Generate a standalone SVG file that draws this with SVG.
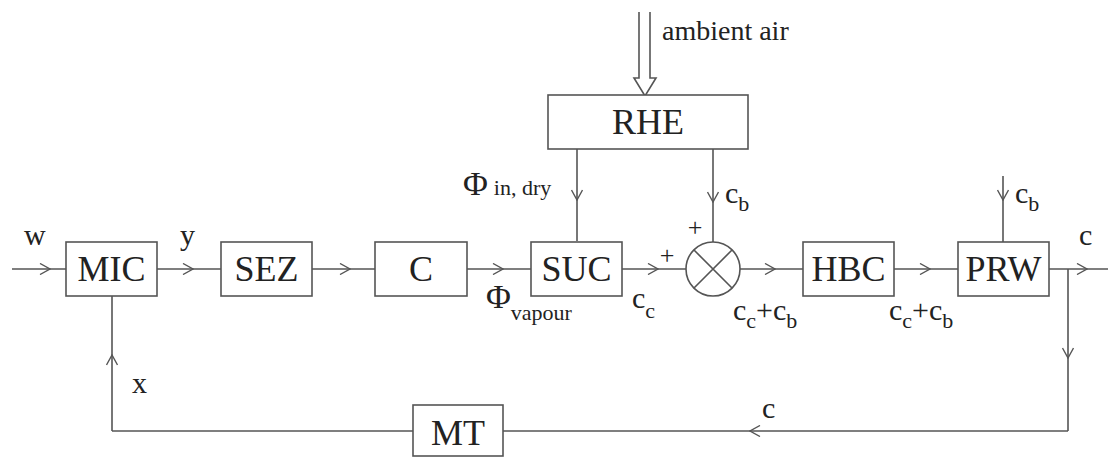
<svg xmlns="http://www.w3.org/2000/svg" width="1108" height="457" viewBox="0 0 1108 457">
<style>
.box{fill:#fff;stroke:#555;stroke-width:1.6}
.ln{fill:none;stroke:#555;stroke-width:1.6}
.big{font-family:"Liberation Serif",serif;font-size:36px;fill:#222;text-anchor:middle}
.lab{font-family:"Liberation Serif",serif;font-size:30px;fill:#222}
.sub{font-size:22px}
.phi{font-size:34px}
.amb{font-family:"Liberation Serif",serif;font-size:28px;fill:#222}
.pl{font-family:"Liberation Serif",serif;font-size:26px;fill:#222;text-anchor:middle}
</style>
<defs>
<marker id="chev" viewBox="0 0 12 12" refX="11" refY="6" markerWidth="12" markerHeight="12" markerUnits="userSpaceOnUse" orient="auto">
<path d="M1,0.5 L11,6 L1,11.5" fill="none" stroke="#555" stroke-width="1.4"/>
</marker>
</defs>
<rect width="1108" height="457" fill="#fff"/>
<g id="connectors">
<path class="ln" d="M12,269 L50,269 L66,269" marker-mid="url(#chev)"/>
<path class="ln" d="M157,269 L193,269 L221,269" marker-mid="url(#chev)"/>
<path class="ln" d="M312,269 L350,269 L375,269" marker-mid="url(#chev)"/>
<path class="ln" d="M467,269 L503,269 L531,269" marker-mid="url(#chev)"/>
<path class="ln" d="M622,269 L658,269 L686,269" marker-mid="url(#chev)"/>
<path class="ln" d="M740,269 L775,269 L803,269" marker-mid="url(#chev)"/>
<path class="ln" d="M894,269 L930,269 L958,269" marker-mid="url(#chev)"/>
<path class="ln" d="M1049,269 L1087,269 L1108,269" marker-mid="url(#chev)"/>
<path class="ln" d="M1068,269 L1068,358 L1068,431" marker-mid="url(#chev)"/>
<path class="ln" d="M1068,431 L750,431 L503,431" marker-mid="url(#chev)"/>
<path class="ln" d="M413,431 L112,431"/>
<path class="ln" d="M112,431 L112,355 L112,296" marker-mid="url(#chev)"/>
<path class="ln" d="M577,149 L577,200 L577,241" marker-mid="url(#chev)"/>
<path class="ln" d="M713,149 L713,202 L713,242" marker-mid="url(#chev)"/>
<path class="ln" d="M1003,176 L1003,200 L1003,242" marker-mid="url(#chev)"/>
<path class="ln" d="M639,12 L639,78 L634,78 L645,96 L656,78 L650,78 L650,12"/>
</g>
<g id="labels">
<text class="amb" x="662" y="40">ambient air</text>
<text class="lab" x="24" y="245">w</text>
<text class="lab" x="180" y="245">y</text>
<text class="lab" x="132" y="393">x</text>
<text class="lab" x="463" y="195"><tspan class="phi">Φ</tspan><tspan class="sub" dx="6">in, dry</tspan></text>
<text class="lab" x="486" y="308"><tspan class="phi">Φ</tspan><tspan class="sub" dy="12">vapour</tspan></text>
<text class="lab" x="632" y="308">c<tspan class="sub" dy="10">c</tspan></text>
<text class="lab" x="725" y="203">c<tspan class="sub" dy="8">b</tspan></text>
<text class="lab" x="1015" y="203">c<tspan class="sub" dy="8">b</tspan></text>
<text class="lab" x="1079" y="245">c</text>
<text class="lab" x="762" y="418">c</text>
<text class="lab" x="733" y="320">c<tspan class="sub" dy="8">c</tspan><tspan dy="-8">+c</tspan><tspan class="sub" dy="8">b</tspan></text>
<text class="lab" x="889" y="320">c<tspan class="sub" dy="8">c</tspan><tspan dy="-8">+c</tspan><tspan class="sub" dy="8">b</tspan></text>
<text class="pl" x="667" y="264">+</text>
<text class="pl" x="695" y="236">+</text>
</g>
<g id="MIC"><rect class="box" x="66" y="242" width="91" height="54"/><text class="big" x="111.5" y="281">MIC</text></g>
<g id="SEZ"><rect class="box" x="221" y="242" width="91" height="54"/><text class="big" x="266.5" y="281">SEZ</text></g>
<g id="C"><rect class="box" x="375" y="242" width="92" height="54"/><text class="big" x="421" y="281">C</text></g>
<g id="SUC"><rect class="box" x="531" y="242" width="91" height="54"/><text class="big" x="576.5" y="281">SUC</text></g>
<g id="SUM"><circle class="box" cx="713" cy="269" r="27"/><path class="ln" d="M694,250 L732,288 M694,288 L732,250"/></g>
<g id="HBC"><rect class="box" x="803" y="242" width="91" height="54"/><text class="big" x="848.5" y="281">HBC</text></g>
<g id="PRW"><rect class="box" x="958" y="242" width="91" height="54"/><text class="big" x="1003.5" y="281">PRW</text></g>
<g id="RHE"><rect class="box" x="548" y="95" width="200" height="54"/><text class="big" x="648" y="134">RHE</text></g>
<g id="MT"><rect class="box" x="413" y="405" width="90" height="51"/><text class="big" x="458" y="445">MT</text></g>
</svg>
